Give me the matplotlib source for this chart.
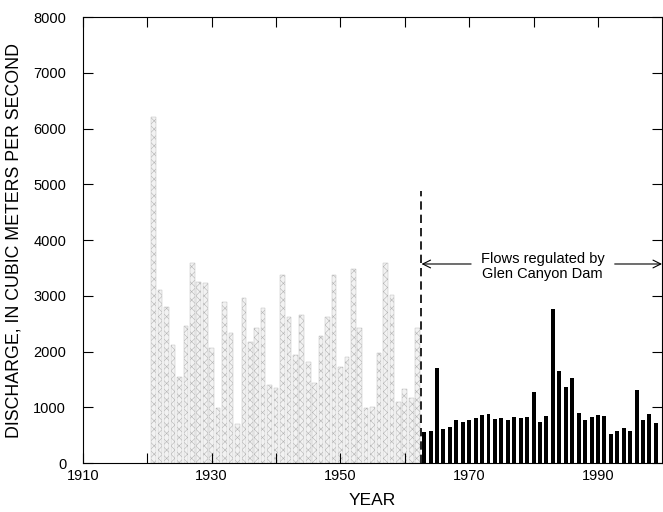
import matplotlib.pyplot as plt
import matplotlib as mpl

mpl.rcParams['font.family'] = ['Liberation Sans', 'DejaVu Sans']
mpl.rcParams['hatch.linewidth'] = 0.4

#### data

# before the dam, 1921-1962
pre_years = list(range(1921, 1963))
pre_flow = [6200, 3100, 2800, 2120, 1550, 2450, 3590, 3250, 3230, 2060,
            990, 2890, 2330, 700, 2960, 2170, 2420, 2780, 1400, 1345,
            3370, 2620, 1940, 2650, 1820, 1430, 2270, 2620, 3370, 1730,
            1910, 3480, 2420, 990, 1010, 1970, 3590, 3010, 1100, 1320,
            1160, 2420]

# regulated by Glen Canyon Dam, 1963-1999
post_years = list(range(1963, 2000))
post_flow = [556, 575, 1710, 610, 650, 770, 740, 775, 805, 860,
             885, 785, 800, 770, 825, 805, 825, 1280, 735, 845,
             2760, 1655, 1360, 1520, 895, 770, 825, 860, 840, 520,
             570, 630, 570, 1305, 770, 880, 715]

dam_year = 1962.5
dam_line_top = 4880
arrow_level = 3570
note = "Flows regulated by\nGlen Canyon Dam"

#### plot

fig = plt.figure(figsize=(6.63, 5.12), dpi=100)
ax = fig.add_axes([0.125, 0.0957, 0.874, 0.871])

ax.bar(pre_years, pre_flow, width=0.72, color='#f2f2f2', edgecolor='#b4b4b4',
       hatch='xxxx', linewidth=0.3)
ax.bar(post_years, post_flow, width=0.62, color='black', linewidth=0)

ax.plot([dam_year, dam_year], [0, dam_line_top], color='black', lw=1.2,
        dashes=(5, 3))

ax.annotate('', xy=(dam_year + 0.1, arrow_level), xytext=(1970.3, arrow_level),
            arrowprops=dict(arrowstyle='->', lw=0.8, color='black',
                            shrinkA=0, shrinkB=0, mutation_scale=14))
ax.annotate('', xy=(1999.95, arrow_level), xytext=(1992.6, arrow_level),
            arrowprops=dict(arrowstyle='->', lw=0.8, color='black',
                            shrinkA=0, shrinkB=0, mutation_scale=14))
ax.text(1981.4, arrow_level - 40, note, ha='center', va='center',
        fontsize=10.5, linespacing=1.05)

ax.set_xlim(1910, 2000)
ax.set_ylim(0, 8000)
ax.set_xticks(range(1910, 2000, 10))
ax.set_xticklabels([str(y) if (y - 1910) % 20 == 0 else '' for y in range(1910, 2000, 10)])
ax.set_yticks(range(0, 8001, 1000))
ax.tick_params(direction='in', length=7, width=0.8, top=True, right=True,
               labelsize=10.5, colors='black')
ax.tick_params(axis='x', pad=4)
ax.tick_params(axis='y', pad=12)
for s in ax.spines.values():
    s.set_linewidth(0.8)

ax.set_xlabel('YEAR', fontsize=12.5)
ax.xaxis.set_label_coords(0.5, -0.067)
ax.set_ylabel('DISCHARGE, IN CUBIC METERS PER SECOND', fontsize=12.8, va='center')
ax.yaxis.set_label_coords(-0.119, 0.498)

fig.savefig('out.png', dpi=100)
